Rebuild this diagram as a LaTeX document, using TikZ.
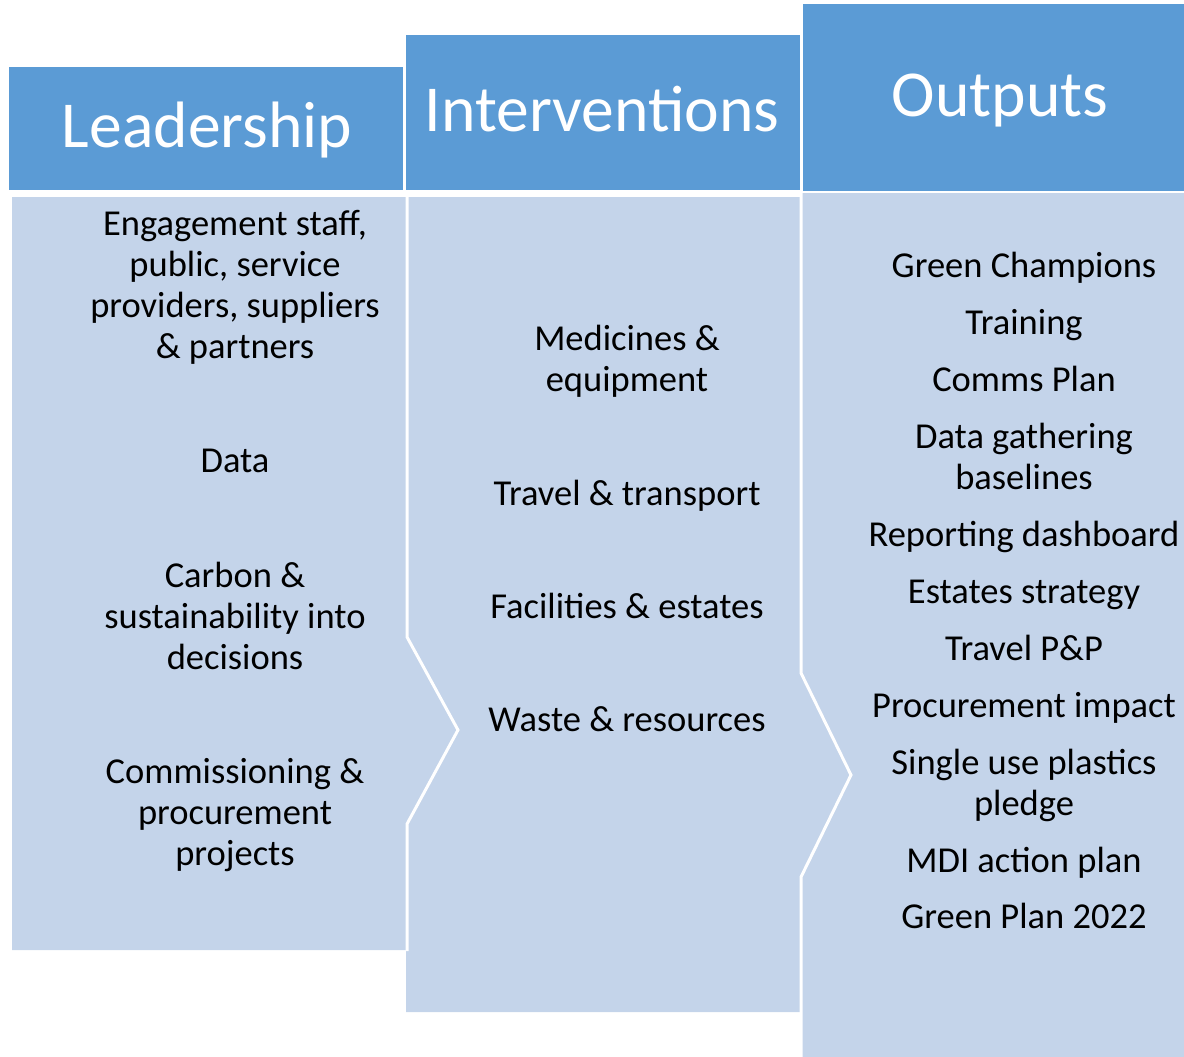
\documentclass[tikz,border=0pt]{standalone}
\usepackage{fontspec}
\setmainfont{Carlito}
\definecolor{headBlue}{RGB}{91,155,213}
\definecolor{bodyBlue}{RGB}{196,212,234}

\begin{document}
\begin{tikzpicture}[x=1pt, y=-1pt,
        hdr/.style={anchor=base, inner sep=0pt, text=white, font=\fontsize{65.6}{70}\selectfont},
        item/.style={anchor=base, inner sep=0pt, align=center, font=\fontsize{36.5}{41}\selectfont},
        sep/.style={draw=white, line width=3pt, line join=miter}]
        \pgfmathsetmacro{\tipA}{458}
        \pgfmathsetmacro{\tipB}{851}
        \useasboundingbox (0,0) rectangle (1184,1057);

        % header bars
        \fill[headBlue] (9,67) rectangle (403,190);
        \fill[headBlue] (406,35) rectangle (800,190);
        \fill[headBlue] (803,4) rectangle (1184,191);

        % body panels
        \fill[bodyBlue] (12,197) -- (407,197) -- (407,637) -- (\tipA,730)
            -- (407,824) -- (407,950) -- (12,950) -- cycle;
        \fill[bodyBlue] (406,197) -- (801,197) -- (801,673) -- (\tipB,775)
            -- (801,877) -- (801,1012) -- (406,1012) -- cycle;
        \fill[bodyBlue] (801,193) -- (1184,193) -- (1184,1057) -- (801,1057) -- cycle;

        \draw[sep] (407,196) -- (407,637) -- (\tipA,730) -- (407,824) -- (407,951);
        \draw[sep] (801,192) -- (801,673) -- (\tipB,775) -- (801,877) -- (801,1057);

        % headings
        \node[hdr] (leadHead) at (207,147) {Leadership};
        \node[hdr] (intHead) at (602,131) {Interventions};
        \node[hdr] (outHead) at (1000,117) {Outputs};

        % leadership column (base = last line)
        \node[item] (engage) at (235,358) {Engagement staff,\\public, service\\providers, suppliers\\\& partners};
        \node[item] (data) at (235,472) {Data};
        \node[item] (carbon) at (235,669) {Carbon \&\\sustainability into\\decisions};
        \node[item] (commission) at (235,865) {Commissioning \&\\procurement\\projects};

        % interventions column
        \node[item] (medicines) at (627,391) {Medicines \&\\equipment};
        \node[item] (travel) at (627,505) {Travel \& transport};
        \node[item] (facilities) at (627,618) {Facilities \& estates};
        \node[item] (waste) at (627,731) {Waste \& resources};

        % outputs column
        \foreach \name/\yy/\txt in {greenChamp/277/{Green Champions}, training/334/{Training},
                commsPlan/391/{Comms Plan}, dataGather/489/{Data gathering\\baselines},
                dashboard/546/{Reporting dashboard}, estates/603/{Estates strategy},
                travelPP/660/{Travel P\&P}, procure/717/{Procurement impact},
                plastics/815/{Single use plastics\\pledge}, mdi/872/{MDI action plan},
                greenPlan/928/{Green Plan 2022}}
            \node[item] (\name) at (1024,\yy) {\txt};
\end{tikzpicture}
\end{document}
